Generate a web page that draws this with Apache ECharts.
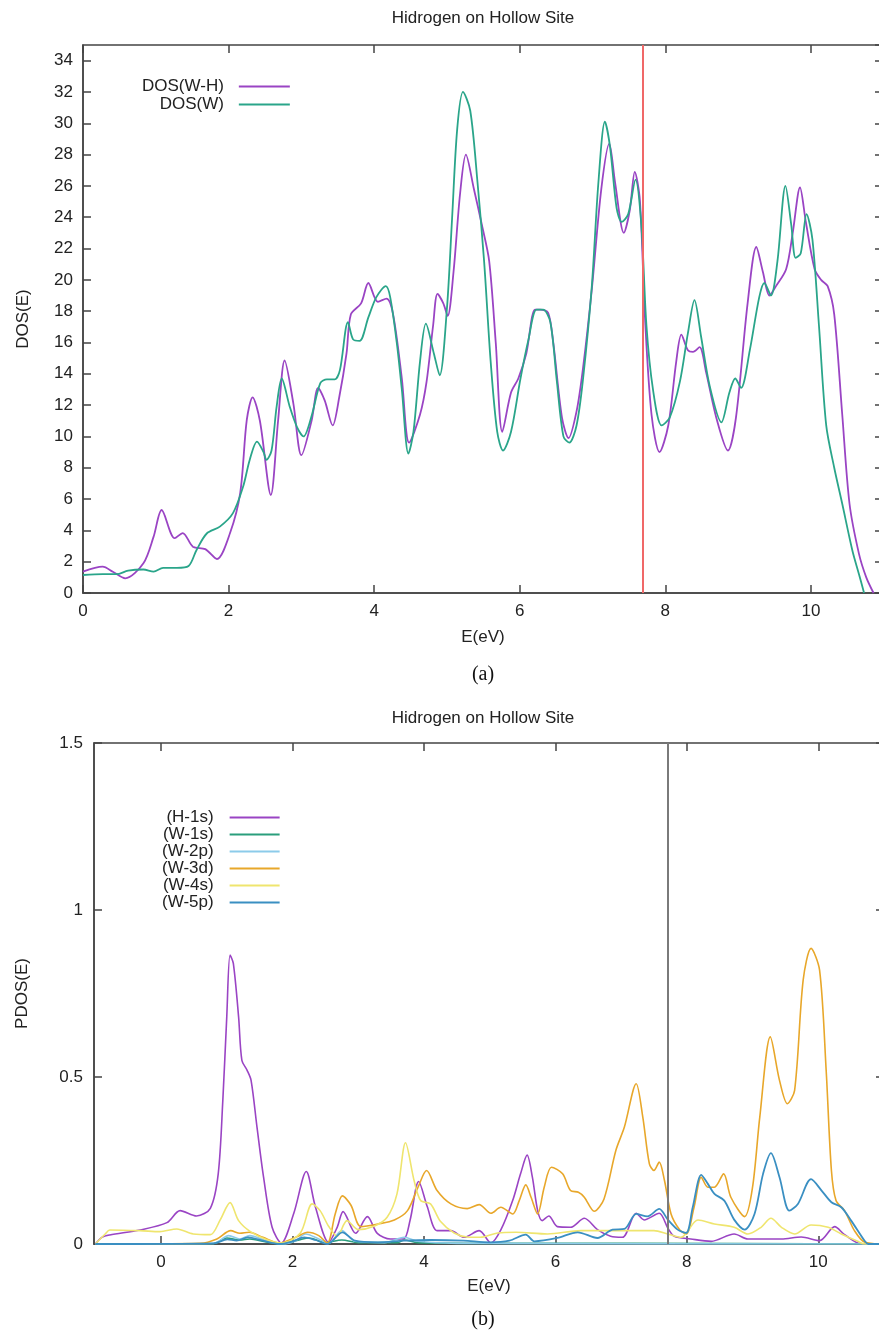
<!DOCTYPE html>
<html>
<head>
<meta charset="utf-8">
<title>Hidrogen on Hollow Site</title>
<script src="https://cdn.jsdelivr.net/npm/echarts@6/dist/echarts.min.js"></script>
<style>
  html, body { margin: 0; padding: 0; background: #fff; }
  #chart { width: 879px; height: 1338px; }
</style>
</head>
<body>
<div id="chart"></div>
<script>
  // ---- (a) total DOS ----
  var eWH = [0, 0.27, 0.41, 0.58, 0.83, 0.97, 1.08, 1.26, 1.37, 1.51,
    1.68, 1.84, 2.02, 2.16, 2.25, 2.33, 2.43, 2.58, 2.68, 2.77,
    2.89, 3.0, 3.14, 3.23, 3.32, 3.43, 3.52, 3.62, 3.68, 3.82,
    3.92, 4.05, 4.17, 4.26, 4.38, 4.48, 4.63, 4.72, 4.81, 4.87,
    4.95, 5.01, 5.09, 5.18, 5.26, 5.37, 5.48, 5.58, 5.67, 5.76,
    5.88, 5.98, 6.09, 6.21, 6.28, 6.39, 6.46, 6.58, 6.67, 6.78,
    6.87, 6.99, 7.12, 7.23, 7.31, 7.43, 7.51, 7.58, 7.65, 7.72,
    7.81, 7.92, 8.04, 8.15, 8.22, 8.31, 8.38, 8.47, 8.56, 8.70,
    8.86, 8.97, 9.13, 9.25, 9.34, 9.43, 9.52, 9.66, 9.75, 9.85,
    9.93, 10.05, 10.14, 10.23, 10.32, 10.43, 10.53, 10.66, 10.76, 10.86];
  var dosWH = [1.36, 1.68, 1.36, 0.94, 1.9, 3.6, 5.3, 3.5, 3.83, 2.96,
    2.8, 2.17, 3.83, 6.4, 11.05, 12.5, 11.0, 6.26, 11.0, 14.85,
    12.1, 8.8, 11.0, 13.1, 12.3, 10.7, 12.5, 15.3, 17.8, 18.5,
    19.8, 18.6, 18.8, 17.8, 13.7, 9.6, 11.4, 13.5, 17.1, 19.1,
    18.5, 17.7, 20.5, 25.5, 28.0, 25.8, 23.5, 21.2, 16.0, 10.3,
    12.8, 13.7, 15.3, 18.1, 18.1, 17.9, 16.0, 11.2, 9.9, 11.6,
    14.4, 19.4, 25.8, 28.7, 26.2, 23.0, 24.4, 26.9, 25.1, 17.6,
    11.4, 9.0, 10.7, 14.8, 16.5, 15.5, 15.4, 15.7, 14.1, 11.2,
    9.1, 11.2, 18.5, 22.1, 20.5, 19.0, 19.6, 20.7, 23.0, 25.9,
    23.7, 20.7, 20.0, 19.6, 17.8, 11.4, 5.7, 2.5, 1.0, 0.0];
  var eW = [0, 0.27, 0.46, 0.62, 0.83, 0.97, 1.10, 1.29, 1.45, 1.56,
    1.70, 1.88, 2.06, 2.20, 2.29, 2.39, 2.48, 2.52, 2.59, 2.66,
    2.73, 2.84, 2.94, 3.03, 3.14, 3.26, 3.35, 3.46, 3.53, 3.64,
    3.71, 3.80, 3.92, 4.03, 4.16, 4.22, 4.31, 4.38, 4.47, 4.54,
    4.63, 4.71, 4.82, 4.90, 5.0, 5.07, 5.14, 5.22, 5.32, 5.42,
    5.51, 5.60, 5.69, 5.77, 5.88, 6.01, 6.12, 6.23, 6.32, 6.42,
    6.51, 6.60, 6.68, 6.78, 6.87, 6.99, 7.08, 7.17, 7.24, 7.33,
    7.40, 7.49, 7.59, 7.67, 7.74, 7.83, 7.95, 8.06, 8.20, 8.31,
    8.40, 8.49, 8.61, 8.77, 8.88, 8.96, 9.04, 9.16, 9.29, 9.36,
    9.45, 9.54, 9.65, 9.73, 9.79, 9.86, 9.94, 10.02, 10.11, 10.21,
    10.32, 10.43, 10.57, 10.66, 10.73];
  var dosW = [1.15, 1.2, 1.2, 1.43, 1.5, 1.36, 1.6, 1.6, 1.72, 2.75,
    3.8, 4.24, 5.1, 6.8, 8.5, 9.67, 9.0, 8.5, 9.1, 11.9,
    13.7, 11.9, 10.6, 10.0, 11.3, 13.4, 13.65, 13.65, 14.25, 17.3,
    16.2, 16.1, 17.6, 18.9, 19.6, 18.9, 16.0, 13.0, 8.9, 10.3,
    14.8, 17.2, 15.3, 13.9, 18.2, 23.9, 29.6, 32.0, 30.8, 26.2,
    21.2, 14.8, 10.3, 9.1, 10.3, 13.7, 16.2, 18.1, 18.1, 17.3,
    13.5, 10.0, 9.6, 10.7, 13.7, 19.6, 26.2, 30.1, 28.5, 24.6,
    23.7, 24.2, 26.4, 23.5, 17.1, 13.0, 10.7, 11.2, 13.5, 16.6,
    18.7, 16.4, 13.2, 10.9, 12.8, 13.7, 13.1, 15.5, 18.9, 19.8,
    19.0, 21.2, 26.0, 23.5, 21.4, 21.7, 24.2, 22.6, 17.1, 10.7,
    8.0, 5.7, 2.7, 1.2, 0.0];
  var fermiA = 7.69;

  // ---- (b) projected DOS ----
  var eH1s = [-1.0, -0.9, -0.78, -0.32, 0.09, 0.29, 0.54, 0.75, 0.87, 0.94,
    1.0, 1.05, 1.10, 1.18, 1.23, 1.31, 1.37, 1.46, 1.56, 1.69,
    1.83, 2.02, 2.21, 2.35, 2.55, 2.68, 2.77, 2.96, 3.14, 3.29,
    3.49, 3.69, 3.79, 3.92, 4.05, 4.20, 4.41, 4.61, 4.84, 5.02,
    5.17, 5.35, 5.47, 5.57, 5.65, 5.73, 5.80, 5.90, 6.03, 6.23,
    6.44, 6.64, 6.84, 7.02, 7.23, 7.35, 7.58, 7.71, 7.81, 8.06,
    8.37, 8.72, 8.93, 9.18, 9.44, 9.74, 10.02, 10.25, 10.40, 10.66, 11.0];
  var pH1s = [0.0, 0.02, 0.027, 0.042, 0.064, 0.10, 0.084, 0.107, 0.21, 0.43,
    0.68, 0.865, 0.84, 0.68, 0.55, 0.52, 0.49, 0.35, 0.20, 0.05,
    0.003, 0.092, 0.217, 0.11, 0.005, 0.05, 0.097, 0.032, 0.082, 0.032,
    0.015, 0.015, 0.072, 0.187, 0.112, 0.04, 0.04, 0.02, 0.04, 0.003,
    0.042, 0.13, 0.21, 0.266, 0.2, 0.10, 0.07, 0.084, 0.052, 0.05,
    0.077, 0.043, 0.023, 0.02, 0.092, 0.072, 0.092, 0.048, 0.023, 0.015,
    0.008, 0.03, 0.015, 0.015, 0.015, 0.021, 0.01, 0.052, 0.028, 0.0, 0.0];
  var eW1s = [-1.0, 0.8, 1.0, 1.2, 1.35, 1.6, 1.85, 2.1, 2.25, 2.5, 2.75, 3.0, 3.6, 3.7, 3.9, 5.0, 7.2, 11.0];
  var pW1s = [0, 0.001, 0.018, 0.012, 0.015, 0.006, 0, 0.012, 0.018, 0.004, 0.012, 0.004, 0.004, 0.012, 0.004, 0.002, 0.002, 0];
  var eW2p = [-1.0, 0.8, 1.03, 1.2, 1.35, 1.6, 1.85, 2.05, 2.2, 2.4, 2.55, 2.75, 2.95, 3.4, 3.7, 3.9, 4.5, 11.0];
  var pW2p = [0, 0.002, 0.025, 0.015, 0.025, 0.01, 0.0, 0.01, 0.03, 0.015, 0.002, 0.04, 0.008, 0.004, 0.02, 0.008, 0.002, 0.0];
  var eW3d = [-1.0, 0.6, 0.85, 1.06, 1.2, 1.34, 1.55, 1.8, 2.05, 2.23,
    2.40, 2.53, 2.65, 2.76, 2.89, 3.04, 3.30, 3.55, 3.75, 3.91,
    4.04, 4.20, 4.41, 4.66, 4.84, 5.02, 5.17, 5.35, 5.45, 5.55,
    5.63, 5.73, 5.83, 5.94, 6.11, 6.23, 6.35, 6.44, 6.59, 6.74,
    6.92, 7.05, 7.23, 7.33, 7.43, 7.50, 7.58, 7.66, 7.76, 7.89,
    7.99, 8.11, 8.22, 8.32, 8.42, 8.56, 8.67, 8.88, 9.00, 9.11,
    9.27, 9.41, 9.53, 9.64, 9.77, 9.89, 10.02, 10.12, 10.20, 10.27,
    10.40, 10.55, 10.71, 11.0];
  var pW3d = [0, 0.002, 0.015, 0.04, 0.032, 0.035, 0.02, 0.003, 0.02, 0.035,
    0.025, 0.003, 0.09, 0.144, 0.116, 0.052, 0.06, 0.072, 0.10, 0.17,
    0.22, 0.16, 0.12, 0.106, 0.118, 0.092, 0.11, 0.09, 0.13, 0.177,
    0.14, 0.09, 0.17, 0.23, 0.21, 0.16, 0.155, 0.14, 0.098, 0.135,
    0.28, 0.35, 0.48, 0.38, 0.24, 0.22, 0.245, 0.19, 0.09, 0.043,
    0.03, 0.11, 0.20, 0.17, 0.17, 0.21, 0.14, 0.082, 0.17, 0.38,
    0.62, 0.49, 0.42, 0.46, 0.79, 0.885, 0.82, 0.52, 0.22, 0.13,
    0.10, 0.04, 0.005, 0];
  var eW4s = [-1.0, -0.85, -0.78, -0.32, -0.02, 0.24, 0.49, 0.75, 0.90, 1.05,
    1.18, 1.36, 1.61, 1.84, 2.12, 2.30, 2.42, 2.55, 2.68, 2.83,
    3.0, 3.24, 3.44, 3.59, 3.72, 3.85, 3.95, 4.10, 4.25, 4.46,
    4.66, 4.86, 5.12, 5.40, 5.88, 6.39, 7.04, 7.50, 7.71, 7.91,
    8.17, 8.42, 8.72, 8.93, 9.13, 9.28, 9.44, 9.64, 9.89, 10.15,
    10.35, 10.60, 10.71, 11.0];
  var pW4s = [0, 0.03, 0.042, 0.04, 0.037, 0.045, 0.03, 0.028, 0.072, 0.124,
    0.07, 0.037, 0.013, 0.003, 0.033, 0.12, 0.10, 0.053, 0.023, 0.07,
    0.043, 0.053, 0.08, 0.15, 0.303, 0.19, 0.13, 0.12, 0.068, 0.033,
    0.021, 0.02, 0.033, 0.035, 0.03, 0.04, 0.04, 0.04, 0.03, 0.02,
    0.072, 0.06, 0.05, 0.03, 0.05, 0.077, 0.05, 0.03, 0.057, 0.05,
    0.03, 0.008, 0, 0];
  var eW5p = [-1.0, 0.8, 1.01, 1.15, 1.32, 1.55, 1.8, 2.0, 2.18, 2.35,
    2.53, 2.76, 2.95, 3.3, 3.70, 4.1, 4.6, 5.0, 5.3, 5.55,
    5.68, 6.03, 6.34, 6.64, 6.87, 7.05, 7.23, 7.40, 7.58, 7.71,
    7.86, 7.99, 8.09, 8.22, 8.32, 8.42, 8.57, 8.72, 8.88, 9.03,
    9.16, 9.28, 9.41, 9.56, 9.69, 9.89, 10.05, 10.20, 10.35, 10.50,
    10.71, 10.76, 11.0];
  var pW5p = [0, 0.002, 0.014, 0.01, 0.02, 0.01, 0.0, 0.008, 0.02, 0.012,
    0.0, 0.035, 0.01, 0.005, 0.01, 0.012, 0.01, 0.005, 0.01, 0.028,
    0.008, 0.018, 0.035, 0.018, 0.043, 0.045, 0.09, 0.083, 0.105, 0.073,
    0.043, 0.033, 0.11, 0.207, 0.18, 0.15, 0.13, 0.073, 0.043, 0.09,
    0.21, 0.272, 0.2, 0.1, 0.12, 0.194, 0.16, 0.125, 0.11, 0.07,
    0.008, 0, 0];
  var fermiB = 7.71;
  var xTicksB = [0, 2, 4, 6, 8, 10];

  var font = "'Liberation Sans', Arial, sans-serif";
  var ink = '#222';
  var frame = {color: '#444', width: 1.5};

  function pts (xs, ys) {
    return xs.map(function (x, i) { return [x, ys[i]]; });
  }

  function curve (name, xs, ys, color, idx, width) {
    return {
      name: name,
      type: 'line',
      xAxisIndex: idx,
      yAxisIndex: idx,
      data: pts(xs, ys),
      symbol: 'none',
      smooth: 0.3,
      lineStyle: {color: color, width: width},
      itemStyle: {color: color}
    };
  }

  function vline (x, color) {
    return {
      silent: true,
      symbol: ['none', 'none'],
      label: {show: false},
      lineStyle: {color: color, width: 2, type: 'solid'},
      data: [{xAxis: x}]
    };
  }

  // mirrored ticks on the top / right side of a frame, no labels
  function mirror (base, pos) {
    return Object.assign({}, base, {
      position: pos,
      name: '',
      axisLine: {show: false, onZero: false},
      axisTick: Object.assign({}, base.axisTick),
      axisLabel: Object.assign({}, base.axisLabel, {show: false})
    });
  }

  var labelStyle = {color: ink, fontSize: 17, fontFamily: font};

  var myChart = echarts.init(document.getElementById('chart'));

  var seriesA1 = curve('DOS(W-H)', eWH, dosWH, '#9a44c4', 0, 1.8);
  seriesA1.markLine = vline(fermiA, '#f06868');
  var seriesB1 = curve('(H-1s)', eH1s, pH1s, '#9a44c4', 2, 1.6);
  seriesB1.markLine = vline(fermiB, '#7a7a7a');

  var xA = {
    gridIndex: 0, type: 'value', min: 0, max: 10.99, interval: 2,
    name: 'E(eV)', nameLocation: 'middle', nameGap: 36, nameTextStyle: labelStyle,
    axisLine: {show: true, onZero: false, lineStyle: frame},
    axisTick: {inside: true, length: 8, lineStyle: frame},
    axisLabel: Object.assign({margin: 10, showMaxLabel: false}, labelStyle),
    splitLine: {show: false}
  };
  var yA = {
    gridIndex: 0, type: 'value', min: 0, max: 35, interval: 2,
    name: 'DOS(E)', nameLocation: 'middle', nameGap: 51, nameTextStyle: labelStyle,
    axisLine: {show: true, onZero: false, lineStyle: frame},
    axisTick: {inside: true, length: 8, lineStyle: frame},
    axisLabel: Object.assign({margin: 10, showMaxLabel: false}, labelStyle),
    splitLine: {show: false}
  };
  var xB = {
    gridIndex: 1, type: 'value', min: -1.02, max: 11.0,
    name: 'E(eV)', nameLocation: 'middle', nameGap: 34, nameTextStyle: labelStyle,
    axisLine: {show: true, onZero: false, lineStyle: frame},
    axisTick: {inside: true, length: 8, lineStyle: frame, customValues: xTicksB},
    axisLabel: Object.assign({margin: 10, customValues: xTicksB}, labelStyle),
    splitLine: {show: false}
  };
  var yB = {
    gridIndex: 1, type: 'value', min: 0, max: 1.5, interval: 0.5,
    name: 'PDOS(E)', nameLocation: 'middle', nameGap: 63, nameTextStyle: labelStyle,
    axisLine: {show: true, onZero: false, lineStyle: frame},
    axisTick: {inside: true, length: 8, lineStyle: frame},
    axisLabel: Object.assign({margin: 11}, labelStyle),
    splitLine: {show: false}
  };

  myChart.setOption({
    animation: false,
    backgroundColor: '#fff',
    graphic: [
      {type: 'text', x: 483, y: 18, style: {text: 'Hidrogen on Hollow Site', fill: ink, font: '17px ' + font, textAlign: 'center', textVerticalAlign: 'middle', align: 'center', verticalAlign: 'middle'}},
      {type: 'text', x: 483, y: 675, style: {text: '(a)', fill: '#111', font: '20px "Liberation Serif", serif', textAlign: 'center', textVerticalAlign: 'middle', align: 'center', verticalAlign: 'middle'}},
      {type: 'text', x: 483, y: 718, style: {text: 'Hidrogen on Hollow Site', fill: ink, font: '17px ' + font, textAlign: 'center', textVerticalAlign: 'middle', align: 'center', verticalAlign: 'middle'}},
      {type: 'text', x: 483, y: 1320, style: {text: '(b)', fill: '#111', font: '20px "Liberation Serif", serif', textAlign: 'center', textVerticalAlign: 'middle', align: 'center', verticalAlign: 'middle'}}
    ],
    legend: [
      {
        data: ['DOS(W-H)', 'DOS(W)'],
        orient: 'vertical',
        left: 142,
        top: 78,
        padding: 0,
        align: 'right',
        itemWidth: 51,
        itemHeight: 10,
        itemGap: 1,
        itemStyle: {opacity: 0},
        textStyle: {color: ink, fontSize: 17, lineHeight: 17, fontFamily: font, padding: [0, 10, 0, 0]}
      },
      {
        data: ['(H-1s)', '(W-1s)', '(W-2p)', '(W-3d)', '(W-4s)', '(W-5p)'],
        orient: 'vertical',
        left: 162,
        top: 809,
        padding: 0,
        align: 'right',
        itemWidth: 50,
        itemHeight: 10,
        itemGap: 0,
        itemStyle: {opacity: 0},
        textStyle: {color: ink, fontSize: 17, lineHeight: 17, fontFamily: font, padding: [0, 11, 0, 0]}
      }
    ],
    grid: [
      {left: 83, top: 45, width: 800, height: 548, show: true, borderColor: '#444', borderWidth: 1.5, outerBoundsMode: 'none'},
      {left: 94, top: 743, width: 790, height: 501, show: true, borderColor: '#444', borderWidth: 1.5, outerBoundsMode: 'none'}
    ],
    xAxis: [xA, mirror(xA, 'top'), xB, mirror(xB, 'top')],
    yAxis: [yA, mirror(yA, 'right'), yB, mirror(yB, 'right')],
    series: [
      seriesA1,
      curve('DOS(W)', eW, dosW, '#2aa58a', 0, 1.8),
      seriesB1,
      curve('(W-1s)', eW1s, pW1s, '#2a9e7c', 2, 1.6),
      curve('(W-2p)', eW2p, pW2p, '#8ccbea', 2, 1.6),
      curve('(W-3d)', eW3d, pW3d, '#e8a72a', 2, 1.6),
      curve('(W-4s)', eW4s, pW4s, '#efe56e', 2, 1.6),
      curve('(W-5p)', eW5p, pW5p, '#3a8fc2', 2, 1.8)
    ]
  });
</script>
</body>
</html>
